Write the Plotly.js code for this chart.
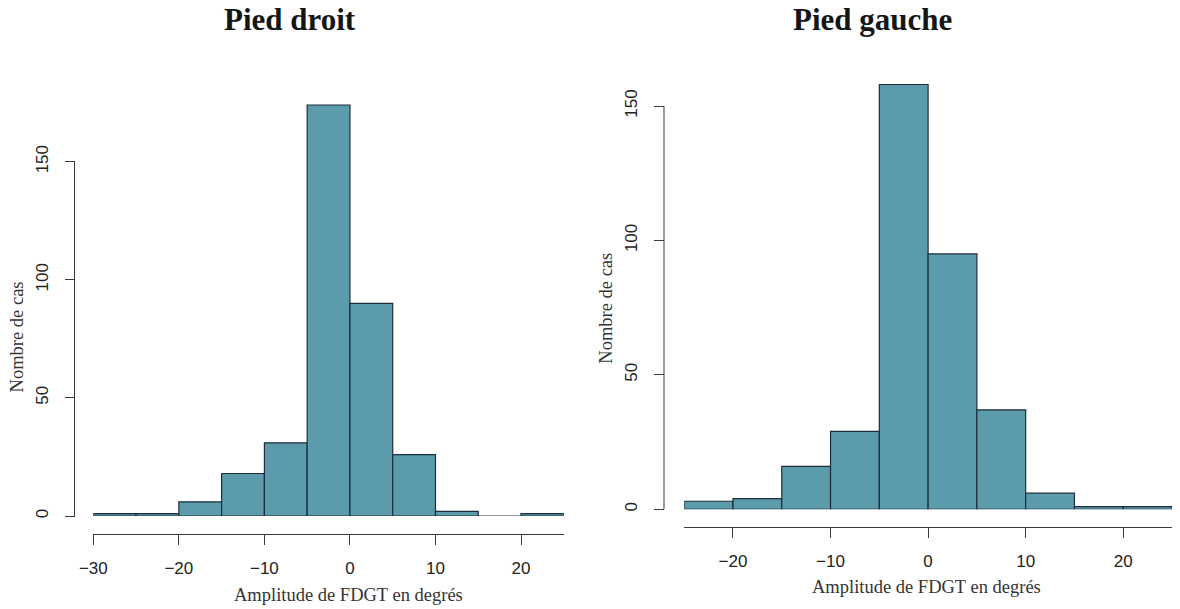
<!DOCTYPE html>
<html>
<head>
<meta charset="utf-8">
<script src="https://cdn.plot.ly/plotly-3.0.1.min.js"></script>
<style>
  html, body { margin: 0; padding: 0; background: #ffffff; }
  #chart { width: 1180px; height: 609px; }
</style>
</head>
<body>
<div id="chart"></div>
<script>
// Histogram counts per 5-degree bin (left edge of each bin)
const binLeftDroit = [-30, -25, -20, -15, -10, -5, 0, 5, 10, 15, 20];
const countsDroit  = [1, 1, 6, 18, 31, 174, 90, 26, 2, 0, 1];

const binLeftGauche = [-25, -20, -15, -10, -5, 0, 5, 10, 15, 20];
const countsGauche  = [3, 4, 16, 29, 158, 95, 37, 6, 1, 1];

const ticksDroitX  = [-30, -20, -10, 0, 10, 20];
const ticksGaucheX = [-20, -10, 0, 10, 20];
const ticksY       = [0, 50, 100, 150];

const titleDroit  = 'Pied droit';
const titleGauche = 'Pied gauche';
const xTitle = 'Amplitude de FDGT en degrés';
const yTitle = 'Nombre de cas';

const W = 1180, H = 609;
const px = v => v / W;          // horizontal pixel -> paper fraction
const py = v => 1 - v / H;      // vertical pixel -> paper fraction

const barFill = '#5b9bab';
const barEdge = '#1e2d3b';
const axisCol = '#3a3a3a';
const tickFont = { family: 'Liberation Sans, Arial, sans-serif', size: 17, color: '#222' };
const serif = 'Liberation Serif, Times New Roman, serif';

function histTrace(binLeft, counts, xa, ya) {
  return {
    type: 'bar',
    x: binLeft,
    y: counts,
    width: 5,
    offset: 0,
    xaxis: xa,
    yaxis: ya,
    marker: { color: barFill, line: { color: barEdge, width: 1.2 } },
    hoverinfo: 'x+y',
    showlegend: false
  };
}

const data = [
  histTrace(binLeftDroit, countsDroit, 'x', 'y'),
  histTrace(binLeftGauche, countsGauche, 'x2', 'y2')
];

// Panel geometry (pixels)
const L = { x0: 93.3, x1: 563.8, xAxisY: 534.3, yAxisX: 74.5, y0: 516, y150: 161.7, yTop: 95 };
const R = { x0: 684.2, x1: 1172, xAxisY: 527.3, yAxisX: 664, y0: 509.3, y150: 106, yTop: 75 };

function yMax(p) { return (p.y0 - p.yTop) / ((p.y0 - p.y150) / 150); }

function xAxis(p, range, tickvals) {
  return {
    domain: [px(p.x0), px(p.x1)],
    range: range,
    anchor: 'free',
    position: py(p.xAxisY),
    showline: true, linecolor: axisCol, linewidth: 1,
    ticks: 'outside', ticklen: 10, tickwidth: 1, tickcolor: axisCol,
    tickvals: tickvals,
    tickfont: tickFont,
    ticklabelstandoff: 8,
    showgrid: false, zeroline: false, fixedrange: true
  };
}

function yAxis(p) {
  return {
    domain: [py(p.y0), py(p.yTop)],
    range: [0, yMax(p)],
    anchor: 'free',
    position: px(p.yAxisX),
    showline: false,
    ticks: 'outside', ticklen: 10, tickwidth: 1, tickcolor: axisCol,
    tickvals: ticksY,
    tickangle: -90,
    tickfont: tickFont,
    ticklabelstandoff: 10,
    showgrid: false, zeroline: false, fixedrange: true
  };
}

function yLine(p, yref) {
  return {
    type: 'line', xref: 'paper', yref: yref,
    x0: px(p.yAxisX), x1: px(p.yAxisX), y0: 0, y1: 150,
    line: { color: axisCol, width: 1 }
  };
}

function note(text, x, y, font, angle) {
  return {
    text: text, xref: 'paper', yref: 'paper', x: px(x), y: py(y),
    xanchor: 'center', yanchor: 'middle', showarrow: false,
    textangle: angle || 0, font: font
  };
}

const titleFont = { family: serif, size: 31, color: '#151515', weight: 'bold' };
const labelFont = { family: serif, size: 18.5, color: '#333' };

const layout = {
  width: W, height: H,
  margin: { l: 0, r: 0, t: 0, b: 0 },
  paper_bgcolor: '#ffffff', plot_bgcolor: '#ffffff',
  bargap: 0,
  xaxis: xAxis(L, [-30, 25], ticksDroitX),
  yaxis: yAxis(L),
  xaxis2: xAxis(R, [-25, 25], ticksGaucheX),
  yaxis2: yAxis(R),
  shapes: [yLine(L, 'y'), yLine(R, 'y2')],
  annotations: [
    note(titleDroit, 289.7, 20, titleFont),
    note(titleGauche, 872.5, 20, titleFont),
    note(xTitle, 348.3, 595, labelFont),
    note(xTitle, 926.7, 586.7, labelFont),
    note(yTitle, 16.7, 336.7, labelFont, -90),
    note(yTitle, 605.7, 308, labelFont, -90)
  ]
};

Plotly.newPlot('chart', data, layout, { displayModeBar: false, staticPlot: true });
</script>
</body>
</html>
